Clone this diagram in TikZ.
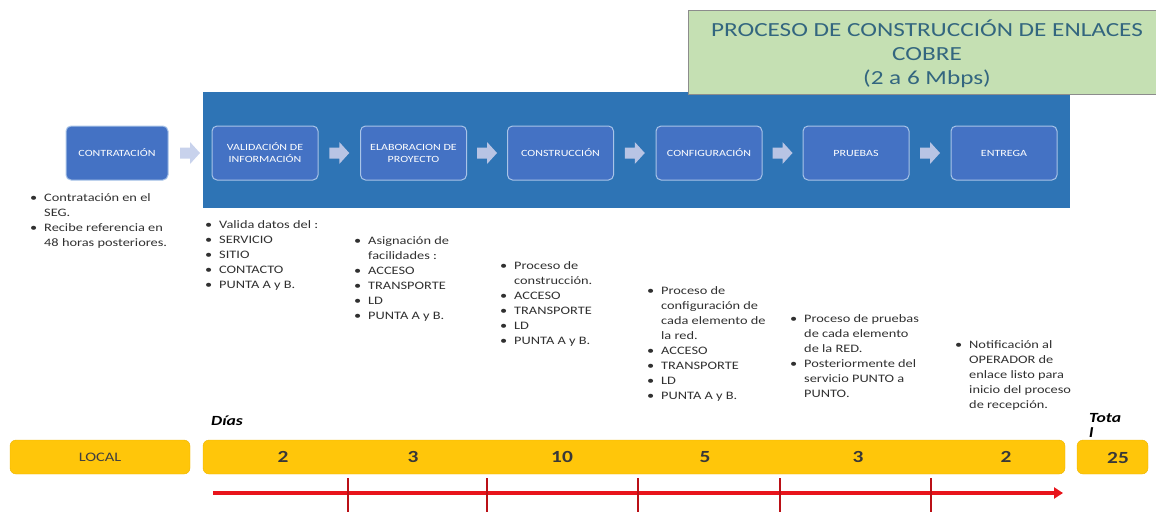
\documentclass[tikz,border=0pt]{standalone}
\usepackage{fontspec}
\setmainfont{Carlito}[FakeStretch=1.26]
\usetikzlibrary{calc,arrows.meta}
\definecolor{bluebg}{HTML}{2E74B5}
\definecolor{boxfill}{HTML}{4472C4}
\definecolor{boxborder}{HTML}{A9C4E8}
\definecolor{arrowc}{HTML}{B8C4E4}
\definecolor{arrowl}{HTML}{C8D2EC}
\definecolor{greenbg}{HTML}{C5E0B3}
\definecolor{titlec}{HTML}{33667F}
\definecolor{notec}{HTML}{303030}
\definecolor{barc}{HTML}{FFC60A}
\definecolor{barline}{HTML}{EDB500}
\definecolor{redc}{HTML}{E8141B}
\newcommand\bul{\makebox[14pt][l]{\textbullet}}
\newcommand\ind{\hspace*{14pt}}
\tikzset{
  stepbox/.style={draw=boxborder, line width=1pt, fill=boxfill, rounded corners=5pt,
    minimum width=106pt, minimum height=54pt, text=white, inner sep=2pt,
    font=\fontsize{9.5}{12}\selectfont, align=center},
  notes/.style={anchor=north west, align=left, font=\fontsize{11.4}{15}\selectfont,
    text=notec, inner sep=0pt},
  bar/.style={fill=barc, draw=barline, rounded corners=6pt},
  num/.style={font=\fontsize{17}{20}\selectfont\bfseries, text=black!78},
  redline/.style={draw=redc, line width=4pt},
  tick/.style={draw=redc!80!black, line width=1.5pt},
  lbl/.style={font=\fontsize{14}{16}\selectfont\bfseries\itshape, inner sep=0pt},
}
\begin{document}
\begin{tikzpicture}[x=1pt,y=-1pt]
\useasboundingbox (0,0) rectangle (1156,512);
% blue background
\fill[bluebg] (203,92) rectangle (1070,208);
% title
\node[draw=black!45, fill=greenbg, minimum width=470pt, minimum height=84pt, inner sep=0pt] (title) at (923,52) {};
\node[text=titlec, font=\fontsize{20}{24}\selectfont, align=center] (titletext) at (927,54)
  {PROCESO DE CONSTRUCCIÓN DE ENLACES\\COBRE\\(2 a 6 Mbps)};
% step boxes
\node[stepbox, minimum width=102pt] (b0) at (117,153) {CONTRATACIÓN};
\node[stepbox] (b1) at (265,153) {VALIDACIÓN DE\\INFORMACIÓN};
\node[stepbox] (b2) at (413.5,153) {ELABORACION DE\\PROYECTO};
\node[stepbox] (b3) at (560.5,153) {CONSTRUCCIÓN};
\node[stepbox] (b4) at (709,153) {CONFIGURACIÓN};
\node[stepbox] (b5) at (856,153) {PRUEBAS};
\node[stepbox] (b6) at (1004,153) {ENTREGA};
\foreach \a/\b/\c in {b0/b1/arrowl,b1/b2/arrowc,b2/b3/arrowc,b3/b4/arrowc,b4/b5/arrowc,b5/b6/arrowc}{
  \coordinate (m\a) at ($(\a.east)!0.5!(\b.west)$);
  \fill[\c, shift={(m\a)}] (-10,-5.5) -- (0,-5.5) -- (0,-11) -- (10,0) -- (0,11) -- (0,5.5) -- (-10,5.5) -- cycle;
}
% notes
\node[notes] (n0) at (30,193) {\bul Contratación en el\\\ind SEG.\\\bul Recibe referencia en\\\ind 48 horas posteriores.};
\node[notes] (n1) at (205,220) {\bul Valida datos del :\\\bul SERVICIO\\\bul SITIO\\\bul CONTACTO\\\bul PUNTA A y B.};
\node[notes] (n2) at (354,236) {\bul Asignación de\\\ind facilidades :\\\bul ACCESO\\\bul TRANSPORTE\\\bul LD\\\bul PUNTA A y B.};
\node[notes] (n3) at (500,261) {\bul Proceso de\\\ind construcción.\\\bul ACCESO\\\bul TRANSPORTE\\\bul LD\\\bul PUNTA A y B.};
\node[notes] (n4) at (647,286) {\bul Proceso de\\\ind configuración de\\\ind cada elemento de\\\ind la red.\\\bul ACCESO\\\bul TRANSPORTE\\\bul LD\\\bul PUNTA A y B.};
\node[notes] (n5) at (790,314) {\bul Proceso de pruebas\\\ind de cada elemento\\\ind de la RED.\\\bul Posteriormente del\\\ind servicio PUNTO a\\\ind PUNTO.};
\node[notes] (n6) at (955,340) {\bul Notificación al\\\ind OPERADOR de\\\ind enlace listo para\\\ind inicio del proceso\\\ind de recepción.};
% labels
\node[lbl, anchor=west] (dias) at (211,421) {Días};
\node[lbl, anchor=north west, align=left, font=\fontsize{14}{15}\selectfont\bfseries\itshape] (total) at (1089,413) {Tota\\l};
% bars
\node[bar, minimum width=180pt, minimum height=34pt, inner sep=0pt, font=\fontsize{13}{14}\selectfont, text=black!75] (local) at (100,457) {LOCAL};
\node[bar, minimum width=862pt, minimum height=34pt, inner sep=0pt] (dbar) at (634,457) {};
\node[bar, minimum width=71pt, minimum height=34pt, inner sep=0pt] (tbar) at (1112.5,457) {};
\node[num] (d1) at (283,457) {2};
\node[num] (d2) at (413,457) {3};
\node[num] (d3) at (562,457) {10};
\node[num] (d4) at (705,457) {5};
\node[num] (d5) at (858,457) {3};
\node[num] (d6) at (1006,457) {2};
\node[num] (dt) at (1118,458) {25};
% timeline
\coordinate (ls) at (213,493);
\coordinate (le) at (1063,493);
\draw[redline, -{Triangle[length=9pt,width=11pt]}] (ls) -- (le);
\foreach \x in {348,487,638,780,931}
  \draw[tick] (\x,478) -- (\x,512);
\end{tikzpicture}
\end{document}
